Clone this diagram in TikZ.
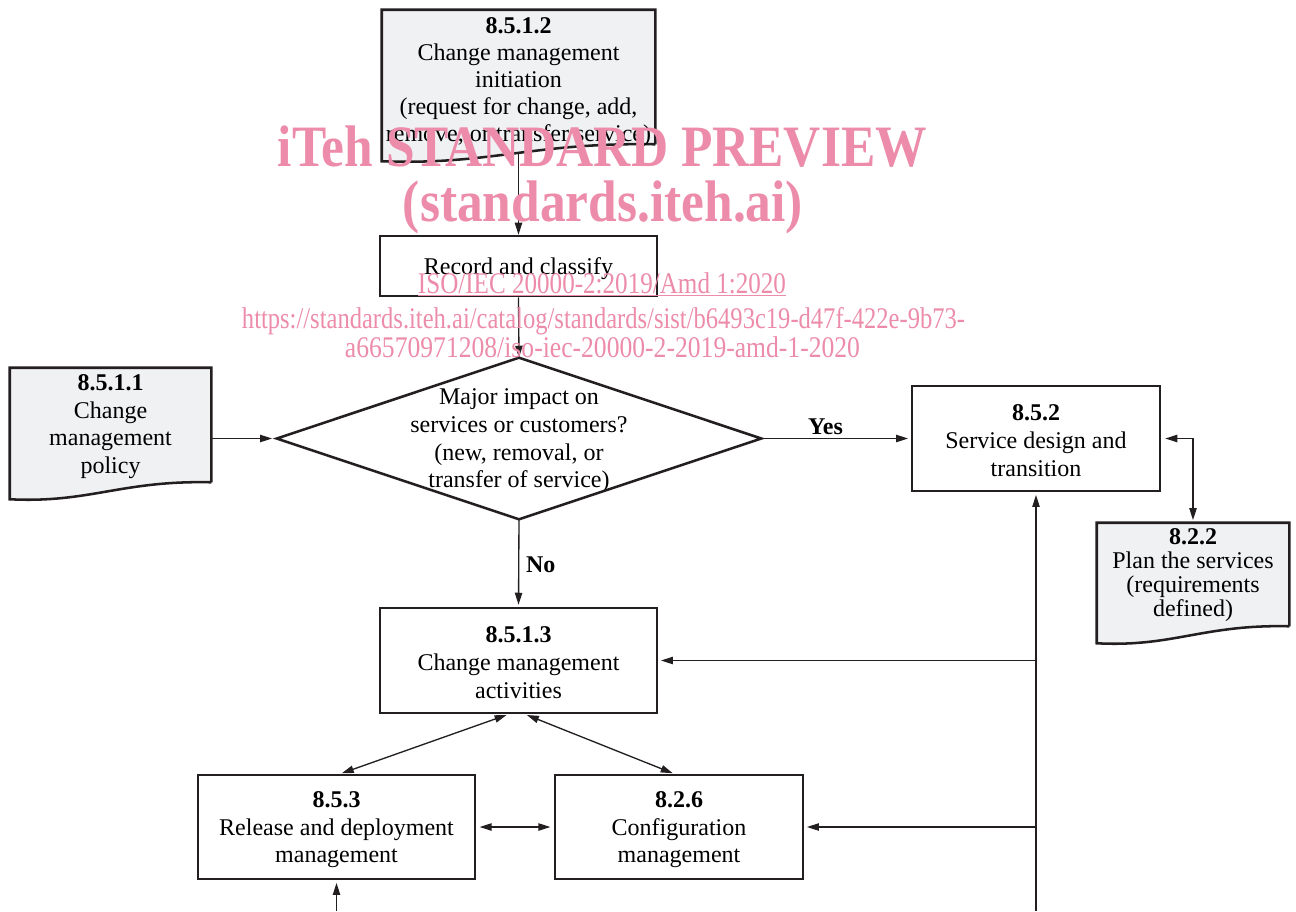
\documentclass[tikz,border=0pt]{standalone}
\usepackage{fontspec}
\setmainfont{Liberation Serif}
\usetikzlibrary{arrows.meta,calc}
\pgfdeclarelayer{background}
\pgfsetlayers{background,main}
\definecolor{ink}{RGB}{35,31,32}
\definecolor{docfill}{RGB}{240,241,243}
\definecolor{wm}{RGB}{236,140,170}
\newcommand\mainf{\fontsize{18}{20.75}\selectfont}
\newcommand\tp[1]{\rule{0pt}{#1}}
\newcommand\docwave[2]{%
  \begin{pgfonlayer}{background}
  \draw[docline] (#1.south east) -- (#1.north east) -- (#1.north west)
    -- ([yshift=-12.75pt]#1.south west)
    .. controls +(0.4*#2,4) and +(-0.45*#2,-2) .. (#1.south east)
    coordinate[pos=0.5] (#1-w);
  \end{pgfonlayer}}
\begin{document}
\begin{tikzpicture}[x=0.75pt,y=-0.75pt,
  box/.style={draw=ink, line width=1.9pt, fill=white, align=center, inner sep=0pt, font=\mainf},
  doctext/.style={align=center, inner sep=0pt, font=\mainf},
  docline/.style={draw=ink, line width=1.9pt, fill=docfill},
  arr/.style={draw=ink, line width=1pt, -{Triangle[length=9pt,width=5.5pt]}},
  darr/.style={draw=ink, line width=1pt, {Triangle[length=9pt,width=5.5pt]}-{Triangle[length=9pt,width=5.5pt]}},
  lbl/.style={font=\fontsize{18}{20}\selectfont\bfseries, inner sep=2pt},
  wmark/.style={text=wm, inner sep=0pt, anchor=base}]
\useasboundingbox (0,0) rectangle (1296,911);

% document shapes
\node[inner sep=0pt, minimum width=273*0.75pt, minimum height=134*0.75pt] (n8512) at (518.5,77) {};
\docwave{n8512}{273}
\node[doctext, font=\fontsize{18}{20.25}\selectfont] (n8512t) at (518.5,82)
  {\textbf{8.5.1.2}\\Change management\\initiation\\(request for change, add,\\remove, or transfer service)};
\node[doctext, minimum width=201*0.75pt, minimum height=114*0.75pt] (n8511) at (110.5,425)
  {\tp{14.5pt}\textbf{8.5.1.1}\\Change\\management\\policy};
\docwave{n8511}{201}
\node[doctext, font=\fontsize{18}{18}\selectfont, minimum width=192*0.75pt, minimum height=103*0.75pt] (n822) at (1193,574.5)
  {\tp{13pt}\textbf{8.2.2}\\Plan the services\\(requirements\\defined)};
\docwave{n822}{192}

% boxes
\node[box, minimum width=277*0.75pt, minimum height=60*0.75pt] (rec) at (518.5,266) {\tp{16.5pt}Record and classify};
\node[align=center, inner sep=0pt, font=\mainf, minimum width=484*0.75pt, minimum height=161*0.75pt] (dia) at (519,438.5)
  {\tp{15.5pt}Major impact on\\services or customers?\\(new, removal, or\\transfer of service)};
\draw[ink, line width=1.9pt, line join=miter] (dia.north) -- (dia.east) -- (dia.south) -- (dia.west) -- cycle;
\node[box, minimum width=248*0.75pt, minimum height=105*0.75pt] (n852) at (1036,438.5)
  {\tp{15pt}\textbf{8.5.2}\\Service design and\\transition};
\node[box, minimum width=277*0.75pt, minimum height=105*0.75pt] (n8513) at (518.5,660.5)
  {\tp{15pt}\textbf{8.5.1.3}\\Change management\\activities};
\node[box, minimum width=277*0.75pt, minimum height=104*0.75pt] (n853) at (336.5,827)
  {\tp{16pt}\textbf{8.5.3}\\Release and deployment\\management};
\node[box, minimum width=248*0.75pt, minimum height=104*0.75pt] (n826) at (679,827)
  {\tp{16pt}\textbf{8.2.6}\\Configuration\\management};

\coordinate (bot1) at (1036,911);
\coordinate (bot2) at (336.5,911);

% connectors
\draw[arr] (rec.north |- n8512-w) -- (rec.north);
\draw[arr] (rec.south) -- (dia.north);
\draw[arr, shorten >=3.5pt] (n8511.east |- dia.west) -- (dia.west);
\draw[arr, shorten >=2pt] (dia.east) -- node[lbl, above, pos=0.43] {Yes} (n852.west);
\draw[arr, shorten >=1.5pt] (dia.south) -- node[lbl, right, pos=0.52, xshift=3pt] {No} (n8513.north);
\draw[darr, shorten <=3pt, shorten >=2pt] (n852.east) -| (n822.north);
\draw[arr, shorten >=2pt] (bot1) -- (n852.south);
\draw[arr, shorten >=2pt] (n852.south |- n8513.east) -- (n8513.east);
\draw[arr, shorten >=2pt] (n852.south |- n826.east) -- (n826.east);
\draw[darr, shorten <=1.5pt, shorten >=1pt] ($(n8513.south)+(-10,0)$) -- ($(n853.north)+(4,0)$);
\draw[darr, shorten <=1.5pt, shorten >=1pt] ($(n8513.south)+(6.5,0)$) -- ($(n826.north)+(-5,0)$);
\draw[darr, shorten <=2.5pt, shorten >=2.5pt] (n853.east) -- (n826.west);
\draw[arr, shorten >=2pt] (bot2) -- (n853.south);

% watermark
\node[wmark, font=\fontsize{44}{44}\selectfont\bfseries] (wm1) at (602.5,166)
  {\resizebox{486.75pt}{\height}{iTeh STANDARD PREVIEW}};
\node[wmark, font=\fontsize{44}{44}\selectfont\bfseries] (wm2) at (603,221)
  {\resizebox{300pt}{\height}{(standards.iteh.ai)}};
\node[wmark, font=\fontsize{22.5}{22.5}\selectfont] (wm3) at (602,293)
  {\resizebox{276pt}{\height}{\underline{ISO/IEC 20000-2:2019/Amd 1:2020}}};
\node[wmark, font=\fontsize{22.5}{22.5}\selectfont] (wm4) at (603.5,328)
  {\resizebox{542.25pt}{\height}{https://standards.iteh.ai/catalog/standards/sist/b6493c19-d47f-422e-9b73-}};
\node[wmark, font=\fontsize{22.5}{22.5}\selectfont] (wm5) at (602.5,357)
  {\resizebox{386.25pt}{\height}{a66570971208/iso-iec-20000-2-2019-amd-1-2020}};
\end{tikzpicture}
\end{document}
